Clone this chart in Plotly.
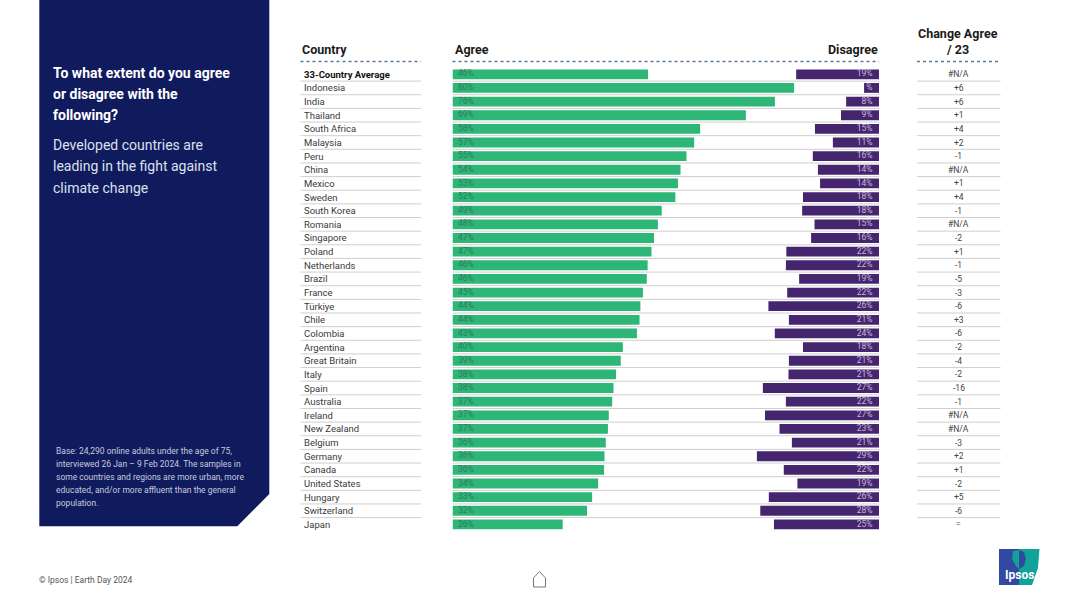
import plotly.graph_objects as go

W, H = 1080, 607

countries = ["33-Country Average", "Indonesia", "India", "Thailand", "South Africa", "Malaysia", "Peru", "China",
             "Mexico", "Sweden", "South Korea", "Romania", "Singapore", "Poland", "Netherlands", "Brazil", "France",
             "Türkiye", "Chile", "Colombia", "Argentina", "Great Britain", "Italy", "Spain", "Australia", "Ireland",
             "New Zealand", "Belgium", "Germany", "Canada", "United States", "Hungary", "Switzerland", "Japan"]
agree = [45.8, 80.0, 75.5, 68.7, 58.0, 56.6, 54.8, 53.4, 52.8, 52.2, 49.0, 48.1, 47.2, 46.6, 45.7, 45.5, 44.6,
         44.0, 43.8, 43.2, 39.9, 39.4, 38.3, 37.7, 37.4, 36.6, 36.4, 35.9, 35.6, 35.5, 34.1, 32.7, 31.5, 25.8]
agree_labels = ["46%", "80%", "76%", "69%", "58%", "57%", "55%", "54%", "53%", "52%", "49%", "48%", "47%", "47%",
                "46%", "46%", "45%", "44%", "44%", "43%", "40%", "39%", "38%", "38%", "37%", "37%", "37%", "36%",
                "36%", "36%", "34%", "33%", "32%", "26%"]
disagree = [19.4, 3.5, 7.7, 8.9, 15.0, 10.8, 15.5, 14.3, 13.8, 17.8, 18.0, 15.1, 15.9, 21.7, 21.8, 18.7, 21.5,
            25.9, 21.1, 24.4, 17.8, 21.1, 21.2, 27.2, 21.8, 26.7, 23.3, 20.4, 28.6, 22.3, 19.1, 25.8, 27.8, 24.6]
disagree_labels = ["19%", "%", "8%", "9%", "15%", "11%", "16%", "14%", "14%", "18%", "18%", "15%", "16%", "22%",
                   "22%", "19%", "22%", "26%", "21%", "24%", "18%", "21%", "21%", "27%", "22%", "27%", "23%", "21%",
                   "29%", "22%", "19%", "26%", "28%", "25%"]
change = ["#N/A", "+6", "+6", "+1", "+4", "+2", "-1", "#N/A", "+1", "+4", "-1", "#N/A", "-2", "+1", "-1", "-5", "-3",
          "-6", "+3", "-6", "-2", "-4", "-2", "-16", "-1", "#N/A", "#N/A", "-3", "+2", "+1", "-2", "+5", "-6", "="]

FONT = "Roboto"
GREEN, PURPLE, NAVY = "#2EB677", "#45256E", "#101B5E"


def px(x):
    return x / W


def py(y):
    return 1 - y / H


def path(points, close=True):
    s = "M " + " L ".join(f"{px(x):.5f},{py(y):.5f}" for x, y in points)
    return s + (" Z" if close else "")


fig = go.Figure()
fig.add_trace(go.Bar(y=countries, x=agree, orientation="h", width=0.72, marker=dict(color=GREEN, line=dict(width=0)),
                     xaxis="x", yaxis="y", showlegend=False, hoverinfo="skip"))
fig.add_trace(go.Bar(y=countries, x=disagree, orientation="h", width=0.72, marker=dict(color=PURPLE, line=dict(width=0)),
                     xaxis="x2", yaxis="y", showlegend=False, hoverinfo="skip"))
fig.add_trace(go.Scatter(y=countries, x=[1.3] * len(countries), text=agree_labels, mode="text",
                         textposition="middle right", textfont=dict(family=FONT, size=8.5, color="#2B7C5E"),
                         xaxis="x", yaxis="y", showlegend=False, hoverinfo="skip", cliponaxis=False))
fig.add_trace(go.Scatter(y=countries, x=[1.5] * len(countries), text=disagree_labels, mode="text",
                         textposition="middle left", textfont=dict(family=FONT, size=8.5, color="#C6B9D8"),
                         xaxis="x2", yaxis="y", showlegend=False, hoverinfo="skip", cliponaxis=False))

shapes, ann = [], []


def text(x, y, s, size, color, anchor="left", bold=False):
    ann.append(dict(x=px(x), y=py(y), xref="paper", yref="paper", text=f"<b>{s}</b>" if bold else s, showarrow=False,
                    xanchor=anchor, yanchor="middle", align=anchor, xshift=0, borderpad=0, borderwidth=0,
                    font=dict(family=FONT, size=size, color=color)))


# left panel
shapes.append(dict(type="path", path=path([(39.3, 0), (269.3, 0), (269.3, 494), (237.3, 526.3), (39.3, 526.3)]),
                   xref="paper", yref="paper", fillcolor=NAVY, line=dict(width=0), layer="below"))
for y, s in [(73, "To what extent do you agree"), (94, "or disagree with the"), (115, "following?")]:
    text(52.5, y, s, 14, "#FFFFFF", bold=True)
for y, s in [(145, "Developed countries are"), (166, "leading in the fight against"), (188, "climate change")]:
    text(52.5, y, s, 14, "#DDE0EC")
for y, s in [(451, "Base: 24,290 online adults under the age of 75,"),
             (464, "interviewed 26 Jan – 9 Feb 2024. The samples in"),
             (477, "some countries and regions are more urban, more"),
             (490, "educated, and/or more affluent than the general"),
             (503, "population.")]:
    text(56, y, s, 8.5, "#C6CADD")
text(39, 580, "© Ipsos | Earth Day 2024", 8.5, "#555555")

# headers
text(302, 49.5, "Country", 12.5, "#1A1A1A", bold=True)
text(454.5, 49.5, "Agree", 12.5, "#1A1A1A", bold=True)
text(877.5, 49.5, "Disagree", 12.5, "#1A1A1A", "right", bold=True)
text(957.5, 33.5, "Change Agree", 12.5, "#1A1A1A", "center", bold=True)
text(957.5, 49.5, "/ 23", 12.5, "#1A1A1A", "center", bold=True)

columns = [(300.5, 421), (452.5, 879), (917, 1000.5)]
for x0, x1 in columns:
    shapes.append(dict(type="line", xref="paper", yref="paper", x0=px(x0), x1=px(x1), y0=py(61.5), y1=py(61.5),
                       line=dict(color="#5B7C94", width=1.6, dash="dot"), layer="below"))
    for i in range(len(countries) - 1):
        shapes.append(dict(type="line", xref="paper", yref="y", x0=px(x0), x1=px(x1), y0=i + 0.5, y1=i + 0.5,
                           line=dict(color="#CFCFCF", width=1), layer="below"))

# row labels and change column
for i, (c, d) in enumerate(zip(countries, change)):
    ann.append(dict(x=px(302), y=c, xref="paper", yref="y", text=f"<b>{c}</b>" if i == 0 else c, showarrow=False,
                    xanchor="left", yanchor="middle", font=dict(family=FONT, size=9.5, color="#111111" if i == 0 else "#3A3A3A")))
    ann.append(dict(x=px(958.5), y=c, xref="paper", yref="y", text=d, showarrow=False, xanchor="center",
                    yanchor="middle", font=dict(family=FONT, size=8.5, color="#444444")))

# home icon
shapes.append(dict(type="path", path=path([(533.5, 587), (533.5, 578), (539.5, 571.5), (545.5, 578), (545.5, 587)]),
                   xref="paper", yref="paper", fillcolor="rgba(0,0,0,0)", line=dict(color="#777777", width=1)))

# logo
shapes.append(dict(type="path", path=path([(999, 549), (1019, 549), (1019, 585), (999, 585)]), xref="paper",
                   yref="paper", fillcolor="#2F4AA0", line=dict(width=0)))
shapes.append(dict(type="path", path=path([(1019, 549), (1039.5, 549), (1038, 568), (1032, 585), (1019, 585)]),
                   xref="paper", yref="paper", fillcolor="#0FA39A", line=dict(width=0)))
shapes.append(dict(type="path", path=path([(1013, 551), (1019, 550), (1019, 569), (1016, 566), (1012, 559)]),
                   xref="paper", yref="paper", fillcolor="#0FA39A", line=dict(width=0)))
shapes.append(dict(type="path", path=path([(1019, 550), (1024, 552), (1026, 559), (1024, 566), (1019, 569)]),
                   xref="paper", yref="paper", fillcolor="#2F4AA0", line=dict(width=0)))
text(1019.5, 575, "Ipsos", 12, "#FFFFFF", "center", bold=True)

DOM = [px(452.5), px(879)]
RANGE = 426.5 / 4.27
fig.update_layout(
    width=W, height=H, margin=dict(l=0, r=0, t=0, b=0), paper_bgcolor="white", plot_bgcolor="rgba(0,0,0,0)",
    barmode="overlay", showlegend=False, shapes=shapes, annotations=ann,
    xaxis=dict(domain=DOM, range=[0, RANGE], visible=False, fixedrange=True),
    xaxis2=dict(domain=DOM, range=[RANGE, 0], visible=False, overlaying="x", fixedrange=True),
    yaxis=dict(domain=[0, 1], type="category", categoryorder="array", categoryarray=countries,
               range=[(607 - 74.3) / 13.64, -74.3 / 13.64], visible=False, fixedrange=True),
)
fig.write_html("out.html", config={"displayModeBar": False},
               post_script="document.body.style.margin='0';document.body.style.overflow='hidden';")
